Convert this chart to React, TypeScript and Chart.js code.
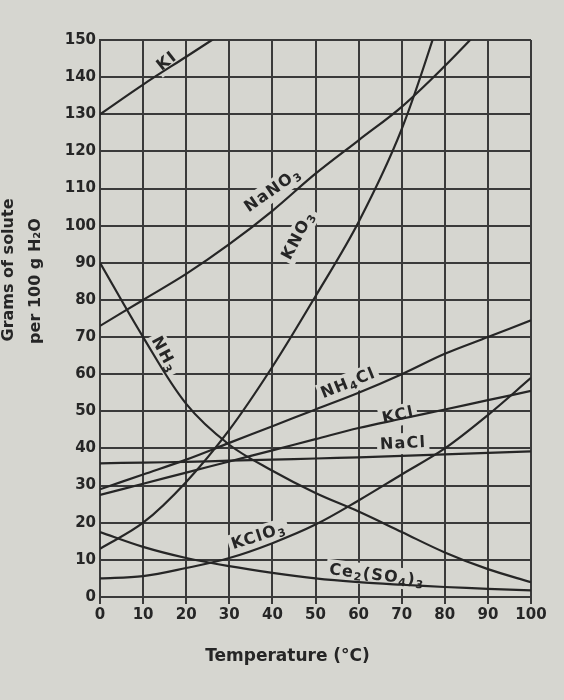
import React, { useEffect, useRef } from "react";
import { Chart, registerables } from "chart.js";
Chart.register(...registerables);

// ---- data (grams of solute per 100 g H2O) ----
const temperatures = [0, 10, 20, 30, 40, 50, 60, 70, 80, 90, 100];
const KI = [130, 138, 145.5, 153];
const NaNO3 = [73, 80, 87, 95, 104, 114, 123, 132, 143, 155];
const KNO3 = [13, 20, 31, 45, 62, 81, 101, 126, 160];
const NH3 = [90, 70, 52, 41, 34, 28, 23, 17.5, 12, 7.5, 4];
const NH4Cl = [29, 33, 37, 41.5, 46, 50.5, 55, 60, 65.5, 70, 74.5];
const KCl = [27.5, 30.5, 33.5, 36.5, 39.5, 42.5, 45.5, 48, 50.5, 53, 55.5];
const NaCl = [36, 36.2, 36.4, 36.7, 37, 37.3, 37.6, 38, 38.4, 38.8, 39.2];
const KClO3 = [5, 5.6, 7.8, 10.5, 14.5, 19.5, 26, 33, 40, 49, 59];
const Ce2SO43 = [17.5, 13.5, 10.5, 8.3, 6.5, 5, 4, 3.3, 2.7, 2.2, 1.8];

const seriesNames = ["KI", "NaNO3", "KNO3", "NH3", "NH4Cl", "KCl", "NaCl", "KClO3", "Ce2(SO4)3"];
const seriesValues = [KI, NaNO3, KNO3, NH3, NH4Cl, KCl, NaCl, KClO3, Ce2SO43];

const xTickStep = 10;
const yTickStep = 10;
const xTitle = "Temperature (°C)";
const yTitleLines = ["Grams of solute", "per 100 g H₂O"];

// curve labels: text parts [text, isSubscript], anchor in data units, angle in degrees
const curveLabels = [
  { parts: [["KI", 0]], x: 15.3, y: 144.6, angle: -38 },
  { parts: [["NaNO", 0], ["3", 1]], x: 39.9, y: 109.9, angle: -35 },
  { parts: [["KNO", 0], ["3", 1]], x: 45.7, y: 97.5, angle: -62 },
  { parts: [["NH", 0], ["3", 1]], x: 15.2, y: 65.5, angle: 62 },
  { parts: [["NH", 0], ["4", 1], ["Cl", 0]], x: 57.5, y: 57.9, angle: -22 },
  { parts: [["KCl", 0]], x: 69.1, y: 49.3, angle: -12 },
  { parts: [["NaCl", 0]], x: 70.3, y: 41.7, angle: -3 },
  { parts: [["KClO", 0], ["3", 1]], x: 36.7, y: 16.7, angle: -18 },
  { parts: [["Ce", 0], ["2", 1], ["(SO", 0], ["4", 1], [")", 0], ["3", 1]], x: 64.3, y: 6.2, angle: 7 },
];

const PAPER = "#d6d6d0";
const INK = "#262626";
const GRID = "#3a3a3a";
const FONT = "'DejaVu Sans', sans-serif";

function measureParts(ctx: CanvasRenderingContext2D, parts: any[]) {
  let w = 0;
  const ws: number[] = [];
  for (const [t, sub] of parts) {
    ctx.font = sub ? `bold 11px ${FONT}` : `bold 16px ${FONT}`;
    const m = ctx.measureText(t).width;
    ws.push(m);
    w += m;
  }
  return { w, ws };
}

const labelPlugin = {
  id: "curveLabels",
  beforeDatasetsDraw(chart: any) {
    const ctx = chart.ctx as CanvasRenderingContext2D;
    const xs = chart.scales.x, ys = chart.scales.y;
    for (const l of curveLabels) {
      ctx.save();
      (ctx as any).letterSpacing = "1.2px";
      ctx.translate(xs.getPixelForValue(l.x), ys.getPixelForValue(l.y));
      ctx.rotate((l.angle * Math.PI) / 180);
      const { w } = measureParts(ctx, l.parts);
      ctx.fillStyle = PAPER;
      ctx.fillRect(-w / 2 - 3, -9, w + 6, 21);
      ctx.restore();
    }
  },
  afterDatasetsDraw(chart: any) {
    const ctx = chart.ctx as CanvasRenderingContext2D;
    const xs = chart.scales.x, ys = chart.scales.y;
    for (const l of curveLabels) {
      ctx.save();
      (ctx as any).letterSpacing = "1.2px";
      ctx.translate(xs.getPixelForValue(l.x), ys.getPixelForValue(l.y));
      ctx.rotate((l.angle * Math.PI) / 180);
      const { w, ws } = measureParts(ctx, l.parts);
      let x = -w / 2;
      ctx.fillStyle = INK;
      ctx.textBaseline = "alphabetic";
      ctx.textAlign = "left";
      l.parts.forEach(([t, sub]: any, i: number) => {
        ctx.font = sub ? `bold 11px ${FONT}` : `bold 16px ${FONT}`;
        ctx.fillText(t, x, sub ? 9 : 6);
        x += ws[i];
      });
      ctx.restore();
    }
  },
};

const backgroundPlugin = {
  id: "paper",
  beforeDraw(chart: any) {
    const ctx = chart.ctx as CanvasRenderingContext2D;
    ctx.save();
    ctx.fillStyle = PAPER;
    ctx.fillRect(0, 0, chart.width, chart.height);
    ctx.restore();
  },
};

const titlesPlugin = {
  id: "axisTitles",
  afterDraw(chart: any) {
    const ctx = chart.ctx as CanvasRenderingContext2D;
    const area = chart.chartArea;
    ctx.save();
    ctx.fillStyle = INK;
    ctx.font = `bold 17px ${FONT}`;
    ctx.textAlign = "center";
    ctx.textBaseline = "middle";
    ctx.fillText(xTitle, (area.left + area.right) / 2 - 28, 657);
    ctx.font = `bold 16px ${FONT}`;
    ctx.textBaseline = "alphabetic";
    const baselines = [13, 40];
    const centers = [270, 281];
    yTitleLines.forEach((t, i) => {
      ctx.save();
      ctx.translate(baselines[i], centers[i]);
      ctx.rotate(-Math.PI / 2);
      ctx.fillText(t, 0, 0);
      ctx.restore();
    });
    ctx.restore();
  },
};

export default function App() {
  const ref = useRef<HTMLCanvasElement>(null);
  useEffect(() => {
    document.body.style.margin = "0";
    const datasets = seriesNames.map((name, i) => ({
      label: name,
      data: seriesValues[i].map((v, j) => ({ x: temperatures[j], y: v })),
      borderColor: INK,
      borderWidth: 2.2,
      pointRadius: 0,
      fill: false,
      tension: 0.35,
    }));
    const chart = new Chart(ref.current!, {
      type: "line",
      data: { datasets },
      plugins: [backgroundPlugin, labelPlugin, titlesPlugin],
      options: {
        animation: false,
        responsive: false,
        layout: { padding: { top: 40, right: 33, left: 0, bottom: 0 } },
        plugins: { legend: { display: false }, tooltip: { enabled: false } },
        scales: {
          x: {
            type: "linear",
            min: 0,
            max: 100,
            afterFit: (s: any) => { s.height = 103; },
            ticks: {
              stepSize: xTickStep,
              color: INK,
              padding: 2,
              font: { family: FONT, size: 15, weight: "bold" },
              maxRotation: 0,
            },
            grid: { color: GRID, lineWidth: 2, tickLength: 7, drawTicks: true },
            border: { display: true, color: GRID, width: 2 },
          },
          y: {
            type: "linear",
            min: 0,
            max: 150,
            afterFit: (s: any) => { s.width = 100; },
            ticks: {
              stepSize: yTickStep,
              color: INK,
              padding: 4,
              font: { family: FONT, size: 15, weight: "bold" },
            },
            grid: { color: GRID, lineWidth: 2, drawTicks: false },
            border: { display: true, color: GRID, width: 2 },
          },
        },
      },
    });
    return () => chart.destroy();
  }, []);
  return (
    <div style={{ width: 564, height: 700 }}>
      <canvas ref={ref} width={564} height={700} style={{ display: "block" }} />
    </div>
  );
}
